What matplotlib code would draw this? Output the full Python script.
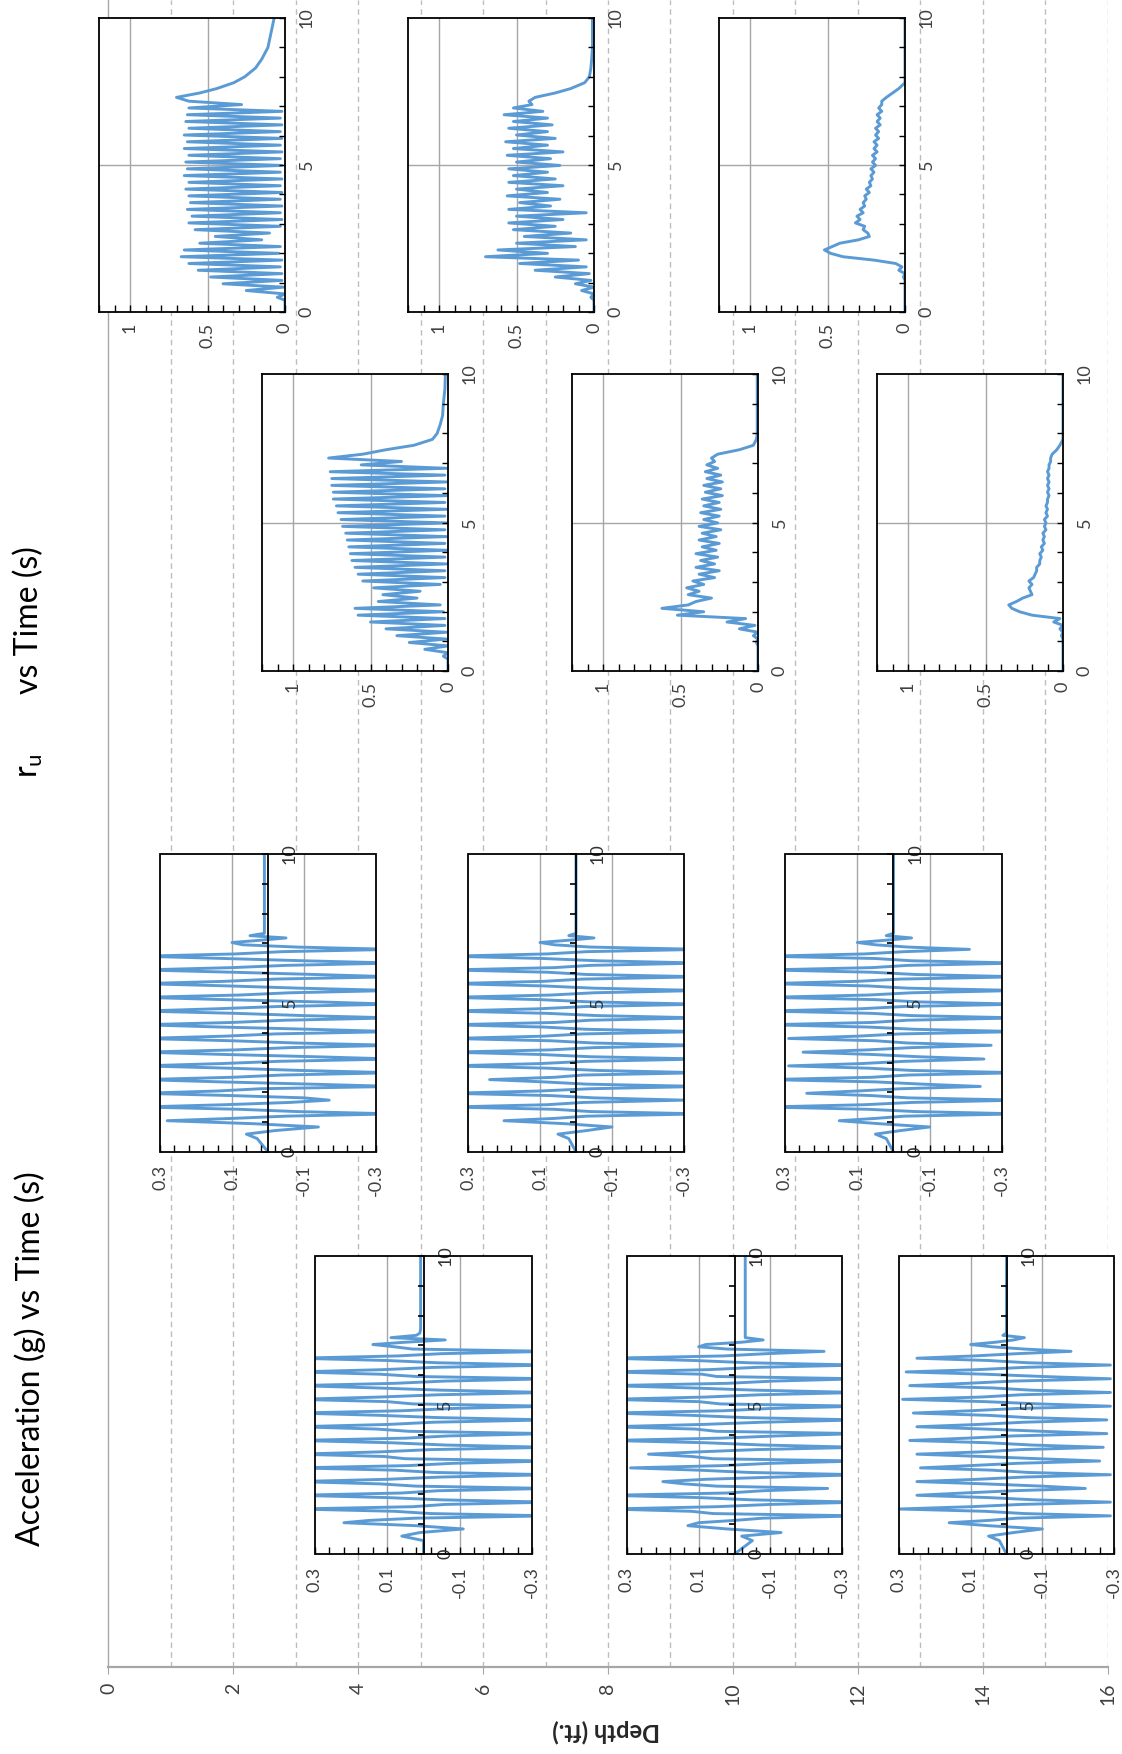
import numpy as np
import matplotlib
matplotlib.use("Agg")
import matplotlib.pyplot as plt
from matplotlib.ticker import MultipleLocator, FixedLocator
from matplotlib.patches import Rectangle

plt.rcParams['font.family'] = ['Lato', 'DejaVu Sans']
plt.rcParams['axes.unicode_minus'] = False

# ---------------- data ----------------
depth_ticks = [0, 2, 4, 6, 8, 10, 12, 14, 16]
depth_grid = [1, 2, 3, 4, 5, 6, 7, 8, 9, 10, 11, 12, 13, 14, 15, 16]

time_ticks = [0, 5, 10]
time_tick_labels = ["0", "5", "10"]
acc_ticks = [0.3, 0.1, -0.1, -0.3]
acc_tick_labels = ["0.3", "0.1", "-0.1", "-0.3"]
acc_grid = [0.1, -0.1]
ru_ticks = [1, 0.5, 0]
ru_tick_labels = ["1", "0.5", "0"]
ru_grid = [1.0, 0.5]
ru_time_grid = [5]

acc_time = [0.0, 0.45, 0.6, 0.72, 0.84, 0.95,
            1.05, 1.127, 1.203, 1.28, 1.357, 1.433,
            1.51, 1.587, 1.663, 1.74, 1.817, 1.893,
            1.97, 2.047, 2.123, 2.20, 2.277, 2.353,
            2.43, 2.507, 2.583, 2.66, 2.737, 2.813,
            2.89, 2.967, 3.043, 3.12, 3.197, 3.273,
            3.35, 3.427, 3.503, 3.58, 3.657, 3.733,
            3.81, 3.887, 3.963, 4.04, 4.117, 4.193,
            4.27, 4.347, 4.423, 4.50, 4.577, 4.653,
            4.73, 4.807, 4.883, 4.96, 5.037, 5.113,
            5.19, 5.267, 5.343, 5.42, 5.497, 5.573,
            5.65, 5.727, 5.803, 5.88, 5.957, 6.033,
            6.11, 6.187, 6.263, 6.34, 6.417, 6.493,
            6.57, 6.647, 6.723, 6.80, 6.877, 6.953,
            7.03, 7.107, 7.183, 7.26, 7.337, 7.413,
            7.55, 7.8, 10.0]

acc_A1a = [0.0, 0.0, 0.06, 0.01, -0.11, 0.02,
           0.22, 0.15, 0.02, -0.35, -0.02, 0.08,
           0.35, 0.03, -0.06, -0.35, -0.05, 0.10,
           0.35, 0.06, -0.04, -0.35, 0.02, 0.12,
           0.35, 0.10, -0.05, -0.35, -0.03, 0.08,
           0.35, 0.04, -0.08, -0.35, 0.05, 0.11,
           0.35, 0.12, -0.02, -0.35, -0.06, 0.09,
           0.35, 0.05, -0.07, -0.35, 0.04, 0.13,
           0.35, 0.10, -0.03, -0.35, -0.04, 0.12,
           0.35, 0.06, -0.08, -0.35, 0.03, 0.10,
           0.35, 0.12, -0.04, -0.35, -0.05, 0.13,
           0.35, 0.08, -0.06, -0.35, 0.02, 0.12,
           0.35, 0.11, -0.03, -0.35, -0.04, 0.10,
           0.35, 0.07, -0.05, -0.35, 0.03, 0.08,
           0.14, 0.05, -0.06, 0.09, 0.02, 0.01,
           0.008, 0.008, 0.008]

acc_A1b = [0.0, -0.05, -0.02, -0.13, 0.02, 0.13,
           0.10, 0.00, -0.08, -0.35, 0.06, 0.12,
           0.35, 0.05, -0.10, -0.35, -0.05, 0.10,
           0.35, 0.02, -0.08, -0.26, 0.05, 0.14,
           0.20, 0.08, -0.12, -0.35, -0.04, 0.10,
           0.29, 0.03, -0.10, -0.35, 0.06, 0.12,
           0.24, 0.10, -0.06, -0.35, -0.08, 0.08,
           0.35, 0.04, -0.12, -0.35, 0.05, 0.11,
           0.35, 0.09, -0.08, -0.35, -0.03, 0.12,
           0.35, 0.03, -0.10, -0.35, 0.04, 0.10,
           0.35, 0.08, -0.07, -0.35, -0.06, 0.12,
           0.35, 0.02, -0.11, -0.35, 0.05, 0.09,
           0.35, 0.07, -0.06, -0.35, -0.04, 0.11,
           0.35, 0.03, -0.09, -0.25, 0.02, 0.10,
           0.08, -0.02, -0.08, -0.03, -0.03, -0.03,
           -0.03, -0.03, -0.03]

acc_A1c = [0.0, 0.02, 0.05, -0.02, -0.10, 0.05,
           0.16, 0.05, -0.03, -0.29, -0.05, 0.06,
           0.30, 0.10, -0.04, -0.29, -0.08, 0.05,
           0.25, 0.12, -0.02, -0.22, -0.10, 0.06,
           0.25, 0.08, -0.05, -0.29, -0.06, 0.04,
           0.24, 0.10, -0.03, -0.26, -0.09, 0.07,
           0.25, 0.07, -0.04, -0.27, -0.07, 0.05,
           0.27, 0.11, -0.02, -0.28, -0.10, 0.06,
           0.25, 0.08, -0.05, -0.28, -0.06, 0.05,
           0.26, 0.10, -0.03, -0.29, -0.09, 0.06,
           0.29, 0.07, -0.04, -0.29, -0.07, 0.04,
           0.27, 0.11, -0.02, -0.29, -0.10, 0.06,
           0.28, 0.08, -0.05, -0.29, -0.06, 0.05,
           0.25, 0.09, -0.03, -0.18, -0.05, 0.04,
           0.10, 0.03, -0.02, -0.05, 0.01, 0.0,
           0.0, 0.0, 0.0]

acc_A2a = [0.0, 0.03, 0.06, -0.02, -0.14, 0.04,
           0.28, 0.10, -0.05, -0.35, -0.08, 0.08,
           0.35, 0.12, -0.06, -0.17, -0.10, 0.10,
           0.35, 0.14, 0.02, -0.35, -0.12, 0.13,
           0.35, 0.10, -0.04, -0.35, -0.09, 0.11,
           0.35, 0.13, -0.03, -0.35, -0.13, 0.12,
           0.35, 0.09, -0.06, -0.35, -0.08, 0.10,
           0.35, 0.12, -0.02, -0.35, -0.12, 0.13,
           0.35, 0.10, -0.05, -0.35, -0.10, 0.09,
           0.35, 0.14, -0.03, -0.35, -0.14, 0.12,
           0.35, 0.08, -0.06, -0.35, -0.09, 0.11,
           0.35, 0.12, -0.02, -0.35, -0.13, 0.10,
           0.35, 0.10, -0.05, -0.35, -0.10, 0.12,
           0.35, 0.09, -0.04, -0.35, -0.08, 0.07,
           0.10, 0.02, -0.05, 0.05, 0.01, 0.01,
           0.01, 0.01, 0.01]

acc_A2b = [0.0, 0.02, 0.05, -0.03, -0.10, 0.03,
           0.20, 0.06, -0.03, -0.35, -0.04, 0.06,
           0.35, 0.08, -0.02, -0.30, -0.05, 0.07,
           0.35, 0.10, -0.04, -0.35, -0.03, 0.09,
           0.24, 0.06, -0.02, -0.35, -0.06, 0.08,
           0.35, 0.10, -0.03, -0.35, -0.04, 0.10,
           0.35, 0.07, -0.05, -0.35, -0.05, 0.07,
           0.35, 0.09, -0.02, -0.35, -0.03, 0.09,
           0.35, 0.06, -0.04, -0.35, -0.06, 0.08,
           0.35, 0.10, -0.03, -0.35, -0.04, 0.10,
           0.35, 0.07, -0.05, -0.35, -0.05, 0.09,
           0.35, 0.09, -0.02, -0.35, -0.03, 0.08,
           0.35, 0.06, -0.04, -0.35, -0.06, 0.09,
           0.35, 0.08, -0.03, -0.35, -0.04, 0.06,
           0.10, 0.02, -0.05, 0.02, 0.0, 0.0,
           0.0, 0.0, 0.0]

acc_A2c = [0.0, 0.02, 0.05, -0.02, -0.10, 0.04,
           0.15, 0.05, -0.03, -0.35, -0.06, 0.07,
           0.35, 0.08, -0.05, -0.35, -0.04, 0.06,
           0.24, 0.10, -0.02, -0.24, -0.08, 0.05,
           0.35, 0.06, -0.04, -0.35, -0.05, 0.07,
           0.29, 0.09, -0.03, -0.25, -0.07, 0.06,
           0.25, 0.07, -0.05, -0.27, -0.04, 0.05,
           0.29, 0.10, -0.02, -0.35, -0.06, 0.07,
           0.35, 0.06, -0.04, -0.35, -0.05, 0.06,
           0.35, 0.09, -0.03, -0.35, -0.07, 0.05,
           0.35, 0.07, -0.05, -0.35, -0.04, 0.07,
           0.35, 0.10, -0.02, -0.35, -0.06, 0.06,
           0.35, 0.06, -0.04, -0.35, -0.05, 0.05,
           0.35, 0.08, -0.03, -0.21, -0.04, 0.05,
           0.10, 0.02, -0.05, 0.02, 0.0, 0.0,
           0.0, 0.0, 0.0]

ru_time = [0.0, 0.4,
           0.5, 0.615, 0.73, 0.845, 0.96, 1.075, 1.19, 1.305, 1.42, 1.535,
           1.65, 1.765, 1.88, 1.995, 2.11, 2.225, 2.34, 2.455, 2.57, 2.685,
           2.80, 2.915, 3.03, 3.145, 3.26, 3.375, 3.49, 3.605, 3.72, 3.835,
           3.95, 4.065, 4.18, 4.295, 4.41, 4.525, 4.64, 4.755, 4.87, 4.985,
           5.10, 5.215, 5.33, 5.445, 5.56, 5.675, 5.79, 5.905, 6.02, 6.135,
           6.25, 6.365, 6.48, 6.595, 6.71, 6.825, 6.94, 7.055,
           7.17, 7.3, 7.45, 7.6, 7.8, 8.0, 8.3, 8.6, 9.0, 9.5, 10.0]

ru_R2a = [0.0, 0.0,
          0.05, 0.00, 0.25, 0.01, 0.40, 0.02, 0.48, 0.02, 0.56, 0.03,
          0.62, 0.02, 0.67, 0.04, 0.65, 0.03, 0.55, 0.15, 0.45, 0.10,
          0.58, 0.03, 0.62, 0.02, 0.60, 0.03, 0.63, 0.02, 0.61, 0.03,
          0.62, 0.02, 0.64, 0.03, 0.62, 0.02, 0.65, 0.03, 0.63, 0.02,
          0.64, 0.03, 0.62, 0.02, 0.65, 0.03, 0.63, 0.02, 0.65, 0.03,
          0.62, 0.02, 0.64, 0.03, 0.63, 0.02, 0.62, 0.28,
          0.62, 0.70, 0.55, 0.44, 0.33, 0.26, 0.19, 0.15, 0.11, 0.09, 0.07]

ru_R2b = [0.0, 0.0,
          0.02, 0.00, 0.08, 0.00, 0.12, 0.02, 0.25, 0.03, 0.38, 0.05,
          0.48, 0.10, 0.70, 0.30, 0.62, 0.12, 0.50, 0.05, 0.45, 0.15,
          0.52, 0.25, 0.55, 0.20, 0.50, 0.05, 0.55, 0.28, 0.48, 0.22,
          0.56, 0.30, 0.50, 0.20, 0.55, 0.25, 0.52, 0.30, 0.55, 0.22,
          0.50, 0.28, 0.56, 0.20, 0.52, 0.30, 0.57, 0.25, 0.50, 0.30,
          0.55, 0.27, 0.52, 0.30, 0.58, 0.33, 0.52, 0.40,
          0.42, 0.38, 0.25, 0.15, 0.06, 0.03, 0.02, 0.015, 0.01, 0.01, 0.01]

ru_R2c = [0.0, 0.0,
          0.00, 0.00, 0.00, 0.00, 0.00, 0.00, 0.01, 0.00, 0.04, 0.02,
          0.06, 0.20, 0.40, 0.48, 0.52, 0.47, 0.42, 0.30, 0.23, 0.24,
          0.27, 0.26, 0.32, 0.29, 0.31, 0.27, 0.29, 0.26, 0.27, 0.25,
          0.26, 0.23, 0.25, 0.22, 0.23, 0.21, 0.22, 0.20, 0.22, 0.19,
          0.21, 0.19, 0.21, 0.18, 0.20, 0.18, 0.20, 0.17, 0.19, 0.17,
          0.19, 0.16, 0.18, 0.16, 0.18, 0.15, 0.17, 0.15,
          0.15, 0.12, 0.08, 0.04, 0.00, 0.00, 0.00, 0.00, 0.00, 0.00, 0.00]

ru_R1a = [0.0, 0.0,
          0.03, 0.00, 0.15, 0.00, 0.25, 0.01, 0.33, 0.01, 0.40, 0.02,
          0.50, 0.02, 0.58, 0.03, 0.60, 0.05, 0.45, 0.20, 0.42, 0.18,
          0.48, 0.05, 0.55, 0.02, 0.58, 0.02, 0.60, 0.01, 0.62, 0.02,
          0.63, 0.01, 0.64, 0.02, 0.65, 0.01, 0.66, 0.02, 0.68, 0.01,
          0.69, 0.02, 0.71, 0.01, 0.72, 0.02, 0.74, 0.01, 0.74, 0.02,
          0.75, 0.01, 0.75, 0.02, 0.76, 0.01, 0.56, 0.30,
          0.77, 0.55, 0.40, 0.22, 0.10, 0.07, 0.05, 0.035, 0.03, 0.02, 0.017]

ru_R1b = [0.0, 0.0,
          0.00, 0.00, 0.00, 0.00, 0.01, 0.00, 0.03, 0.00, 0.12, 0.02,
          0.20, 0.08, 0.52, 0.35, 0.62, 0.45, 0.40, 0.30, 0.45, 0.38,
          0.46, 0.35, 0.42, 0.28, 0.38, 0.25, 0.40, 0.28, 0.37, 0.26,
          0.40, 0.27, 0.36, 0.25, 0.38, 0.27, 0.36, 0.24, 0.38, 0.26,
          0.35, 0.25, 0.37, 0.24, 0.35, 0.25, 0.36, 0.23, 0.34, 0.24,
          0.35, 0.23, 0.33, 0.24, 0.34, 0.26, 0.33, 0.28,
          0.30, 0.26, 0.12, 0.03, 0.01, 0.005, 0.005, 0.005, 0.005, 0.005, 0.005]

ru_R1c = [0.0, 0.0,
          0.00, 0.00, 0.00, 0.00, 0.00, 0.00, 0.01, 0.00, 0.02, 0.00,
          0.06, 0.02, 0.20, 0.28, 0.33, 0.35, 0.30, 0.26, 0.20, 0.21,
          0.22, 0.20, 0.22, 0.19, 0.18, 0.17, 0.17, 0.15, 0.15, 0.14,
          0.15, 0.13, 0.14, 0.12, 0.13, 0.12, 0.13, 0.11, 0.12, 0.11,
          0.12, 0.10, 0.11, 0.10, 0.11, 0.10, 0.10, 0.09, 0.10, 0.09,
          0.10, 0.09, 0.10, 0.09, 0.10, 0.09, 0.09, 0.08,
          0.08, 0.07, 0.04, 0.02, 0.00, 0.00, 0.00, 0.00, 0.00, 0.00, 0.00]

# ---------------- styling ----------------
W, H = 1122, 1754
BLUE = '#5B9BD5'
GRID = '#BDBDBD'
IGRID = '#A6A6A6'
LABEL = '#404040'
fig = plt.figure(figsize=(W / 100, H / 100), dpi=100)


def rect(x0, y0, x1, y1):
    return [x0 / W, 1 - y1 / H, (x1 - x0) / W, (y1 - y0) / H]


# main depth axes
main = fig.add_axes(rect(108.5, 0, 1107.5, 1667))
main.set_xlim(0, 16)
main.set_ylim(0, 1)
for d in depth_grid:
    main.axvline(d, color=GRID, lw=1.0, ls=(0, (4, 3)), zorder=0)
for s in ['top', 'right']:
    main.spines[s].set_visible(False)
main.spines['left'].set_color(IGRID)
main.spines['left'].set_linewidth(1.0)
main.spines['bottom'].set_color(IGRID)
main.spines['bottom'].set_linewidth(1.6)
main.set_yticks([])
main.set_xticks(depth_ticks)
main.set_xticklabels([str(v) for v in depth_ticks], rotation=90)
main.tick_params(axis='x', direction='out', length=5, color=IGRID,
                 labelsize=14, labelcolor=LABEL, pad=6)
fig.text(606 / W, 1 - 1731 / H, 'Depth (ft.)', rotation=180, ha='center',
         va='center', fontsize=17, fontweight='bold', color='#262626')

# titles
fig.text(40 / W, 1 - 1546 / H, 'Acceleration (g) vs Time (s)', rotation=90,
         rotation_mode='anchor', ha='left', va='baseline', fontsize=23)
fig.text(38 / W, 1 - 778 / H, r'r$_\mathregular{u}$', rotation=90,
         rotation_mode='anchor', ha='left', va='baseline', fontsize=23)
fig.text(38 / W, 1 - 694 / H, 'vs Time (s)', rotation=90,
         rotation_mode='anchor', ha='left', va='baseline', fontsize=23)


def acc_inset(box, vals):
    ax = fig.add_axes(rect(*box))
    ax.set_facecolor('white')
    ax.set_axisbelow(False)
    for g in acc_grid:
        ax.axvline(g, color=IGRID, lw=1.0, zorder=1)
    ax.plot(vals, acc_time, color=BLUE, lw=2.1, zorder=2)
    ax.set_xlim(0.3, -0.3)
    ax.set_ylim(0, 10)
    ax.set_xticks(acc_ticks)
    ax.set_xticklabels(acc_tick_labels, rotation=90)
    ax.xaxis.set_minor_locator(FixedLocator(np.arange(-0.3, 0.301, 0.04)))
    ax.tick_params(axis='x', which='both', direction='in', length=5, width=1,
                   color='black', labelsize=13, labelcolor=LABEL, pad=9)
    for s in ['left', 'top', 'bottom']:
        ax.spines[s].set_visible(False)
    ax.spines['right'].set_position(('data', 0))
    ax.spines['right'].set_color('black')
    ax.spines['right'].set_linewidth(1.3)
    ax.spines['right'].set_zorder(3)
    ax.yaxis.tick_right()
    ax.set_yticks(time_ticks)
    ax.set_yticklabels(time_tick_labels, rotation=90, va='center')
    ax.yaxis.set_minor_locator(MultipleLocator(1))
    ax.tick_params(axis='y', which='both', direction='in', length=4, width=1.2,
                   color='black', labelsize=13, labelcolor='#333333', pad=10)
    ax.add_patch(Rectangle((0, 0), 1, 1, transform=ax.transAxes, fill=False,
                           edgecolor='black', lw=1.3, zorder=4, clip_on=False))
    return ax


def ru_inset(box, vals):
    ax = fig.add_axes(rect(*box))
    ax.set_facecolor('white')
    ax.set_axisbelow(False)
    for g in ru_grid:
        ax.axvline(g, color=IGRID, lw=1.0, zorder=1)
    for g in ru_time_grid:
        ax.axhline(g, color=IGRID, lw=1.0, zorder=1)
    ax.plot(vals, ru_time, color=BLUE, lw=2.1, zorder=2)
    ax.set_xlim(1.2, 0)
    ax.set_ylim(0, 10)
    ax.set_xticks(ru_ticks)
    ax.set_xticklabels(ru_tick_labels, rotation=90)
    ax.xaxis.set_minor_locator(FixedLocator(np.arange(0, 1.201, 0.1)))
    ax.yaxis.tick_right()
    ax.set_yticks(time_ticks)
    ax.set_yticklabels(time_tick_labels, rotation=90, va='center')
    ax.yaxis.set_minor_locator(MultipleLocator(1))
    ax.tick_params(axis='x', which='both', direction='in', length=5, width=1,
                   color='black', labelsize=13, labelcolor=LABEL, pad=8)
    ax.tick_params(axis='y', which='both', direction='in', length=4, width=1,
                   color='black', labelsize=13, labelcolor=LABEL, pad=10)
    for s in ax.spines.values():
        s.set_color('black')
        s.set_linewidth(1.3)
    return ax


acc_inset((315, 1256, 532, 1554), acc_A1a)
acc_inset((627, 1256, 842, 1554), acc_A1b)
acc_inset((899, 1256, 1114, 1554), acc_A1c)
acc_inset((160, 854, 376, 1152), acc_A2a)
acc_inset((468, 854, 684, 1152), acc_A2b)
acc_inset((785, 854, 1002, 1152), acc_A2c)

ru_inset((99, 18, 285, 312), ru_R2a)
ru_inset((408, 18, 594, 312), ru_R2b)
ru_inset((719, 18, 905, 312), ru_R2c)
ru_inset((262, 374, 448, 671), ru_R1a)
ru_inset((572, 374, 758, 671), ru_R1b)
ru_inset((877, 374, 1063, 671), ru_R1c)

fig.savefig('out.png', dpi=100)
